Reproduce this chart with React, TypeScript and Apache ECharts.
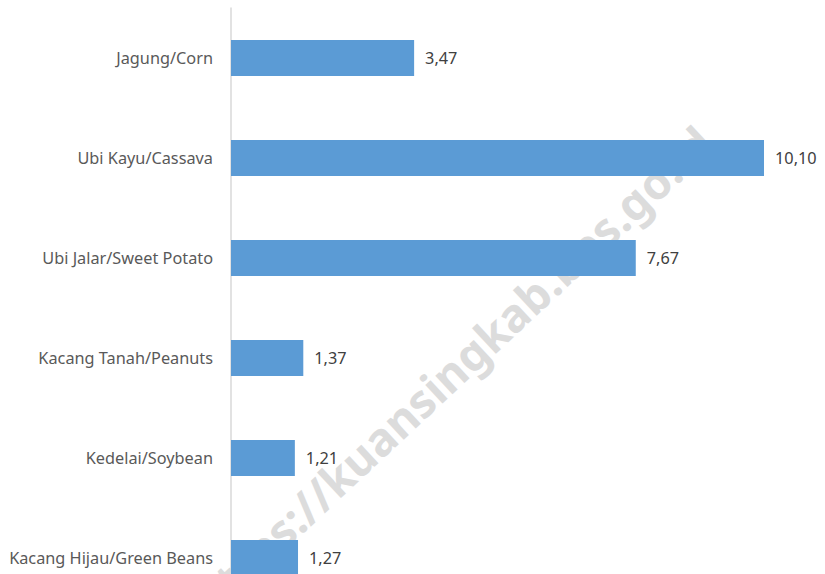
import React, { useEffect, useRef } from "react";
import * as echarts from "echarts";

const categories = [
  "Jagung/Corn",
  "Ubi Kayu/Cassava",
  "Ubi Jalar/Sweet Potato",
  "Kacang Tanah/Peanuts",
  "Kedelai/Soybean",
  "Kacang Hijau/Green Beans",
];
const values = [3.47, 10.1, 7.67, 1.37, 1.21, 1.27];
const watermarkText = "https://kuansingkab.bps.go.id";

export default function App() {
  const ref = useRef<HTMLDivElement>(null);
  useEffect(() => {
    document.body.style.margin = "0";
    document.body.style.overflow = "hidden";
    const chart = echarts.init(ref.current!, null, { renderer: "svg" });
    const font = "Noto Sans";
    chart.setOption({
      animation: false,
      backgroundColor: "#ffffff",
      graphic: [
        {
          type: "text",
          x: 452,
          y: 370,
          rotation: 0.75,
          z: 0,
          style: {
            text: watermarkText,
            font: `bold 46px "${font}"`,
            fill: "#dcdcdc",
            align: "center",
            verticalAlign: "middle",
          },
        },
      ],
      grid: { left: 231, top: 8, width: 580.5, height: 600, containLabel: false },
      xAxis: {
        type: "value",
        min: 0,
        max: 11,
        show: false,
        splitLine: { show: false },
      },
      yAxis: {
        type: "category",
        inverse: true,
        data: categories,
        axisLine: { show: true, lineStyle: { color: "#d9d9d9", width: 1.5 } },
        axisTick: { show: false },
        axisLabel: {
          margin: 18,
          color: "#595959",
          fontSize: 16.3,
          fontFamily: font,
        },
      },
      series: [
        {
          type: "bar",
          data: values,
          barWidth: 36,
          z: 3,
          itemStyle: { color: "#5b9bd5" },
          label: {
            show: true,
            position: "right",
            distance: 11,
            color: "#404040",
            fontSize: 16.3,
            fontFamily: font,
            formatter: (p: any) => p.value.toFixed(2).replace(".", ","),
          },
        },
      ],
    });
    return () => chart.dispose();
  }, []);
  return (
    <div style={{ width: 825, height: 574, overflow: "hidden", position: "relative" }}>
      <div ref={ref} style={{ width: 825, height: 620 }} />
    </div>
  );
}
